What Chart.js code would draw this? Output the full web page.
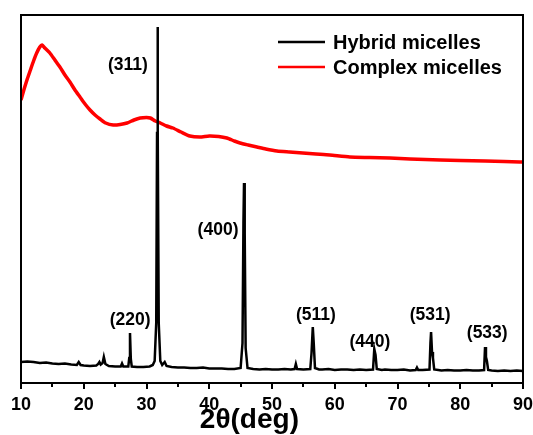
<!DOCTYPE html>
<html>
<head>
<meta charset="utf-8">
<script src="https://cdn.jsdelivr.net/npm/chart.js@4/dist/chart.umd.min.js"></script>
<style>
  html, body { margin: 0; padding: 0; background: #fff; }
  canvas { display: block; }
</style>
</head>
<body>
<canvas id="xrd" width="533" height="435"></canvas>
<script>
// XRD patterns, intensity in arbitrary units
var seriesNames = ['Hybrid micelles', 'Complex micelles'];

var hybridX = [10, 11, 12, 13, 14, 15, 16, 17, 18, 18.9, 19.2, 19.5, 20, 21, 22, 22.3, 22.5, 22.7, 23.0, 23.2, 23.45,
	24, 25, 25.9, 26.1, 26.3, 27.1, 27.25, 27.37, 27.5, 27.65, 28.5, 29.5, 30.5, 31.0, 31.3, 31.55, 31.68, 31.75, 31.83, 31.95, 32.2,
	32.5, 32.9, 33.2, 34, 35, 36, 37, 38, 39, 40, 41, 42, 43, 44, 45, 45.3, 45.45, 45.54, 45.65, 45.8, 46.1,
	47, 48, 49, 50, 51, 52, 53, 53.6, 53.8, 54.0, 55, 56.1, 56.3, 56.5, 56.65, 56.85, 57.5, 58, 59, 60, 61, 62, 63, 64, 65,
	66.1, 66.3, 66.5, 66.7, 67.5, 68, 69, 70, 71, 72, 72.9, 73.1, 73.3, 74, 75.1, 75.25, 75.35, 75.5, 75.65, 75.85,
	76.5, 77, 78, 79, 80, 81, 82, 83, 83.8, 83.95, 84.1, 84.25, 84.45, 85, 86, 87, 88, 89, 90];
var hybridY = [21, 21.5, 21, 20, 20.5, 19.5, 19, 19.5, 18.5, 18, 21, 18, 17.5, 17, 17.5, 19, 21, 18.5, 20, 26, 19,
	17, 16.5, 16.5, 19.5, 16.5, 16.5, 25, 50, 24, 16.5, 16, 16, 16.5, 18, 22, 60, 250, 356, 250, 60, 22,
	18, 21, 17, 16, 15.5, 15.5, 15, 15, 15.5, 14.5, 14.5, 14.5, 14, 14, 15, 40, 160, 200, 150, 35, 15,
	14, 13.5, 14, 13.5, 13.5, 14, 13.5, 14, 19, 14, 13.5, 14, 30, 56, 40, 15, 13.5, 13.5, 14, 13, 13.5, 13.5, 13, 13.5, 13,
	13.5, 34, 28, 14, 13, 13.5, 13, 13, 13.5, 12.5, 13, 15.5, 13, 13, 13.5, 40, 51, 31, 25, 13.5,
	13, 12.5, 13, 12.5, 12.5, 13, 12.5, 12.5, 13, 36, 26, 22, 13, 12.5, 12, 12.5, 12, 12.5, 12];

var complexX = [10, 10.5, 11, 11.5, 12, 12.5, 13, 13.35, 13.8, 14.6, 15.4, 16.2, 17, 17.8, 18.6, 19.4, 20.2, 21, 21.8, 22.6,
	23.5, 24.7, 25.8, 26.9, 28, 29, 30, 30.6, 31.4, 32.2, 33.2, 34.2, 35.5, 36.9, 38.5, 40, 41.5, 42.8, 44, 44.9, 46.2,
	47.6, 49, 50.8, 52.8, 54.9, 57, 59.2, 62.4, 65.5, 68.8, 72, 76.8, 80, 84, 87, 89.5, 90];
var complexY = [283, 294, 304, 313, 322, 330, 336, 338, 335, 330, 323, 316, 308, 301, 293, 286, 279, 273, 268, 264,
	260, 258, 258.5, 260, 263, 265, 265.5, 265, 262, 260, 257, 255, 251, 247, 246, 247, 246.5, 245, 242, 240, 238,
	236, 234, 232, 231, 230, 229, 228, 226, 225.5, 225, 224, 223, 222.5, 222, 221.5, 221, 221];

// reflection labels and where they sit (data units)
var peakLabels = ['(311)', '(220)', '(400)', '(511)', '(440)', '(531)', '(533)'];
var peakLabelX = [27.05, 27.4, 41.4, 57.0, 65.6, 75.2, 84.3];
var peakLabelY = [318, 63, 153, 68, 41, 68, 50];

var xTicks = [10, 20, 30, 40, 50, 60, 70, 80, 90];
var FONT = '"Liberation Sans", Arial, sans-serif';

function toPoints(xs, ys) {
	var pts = [];
	for (var i = 0; i < xs.length; i++) {
		pts.push({x: xs[i], y: ys[i]});
	}
	return pts;
}

var decor = {
	id: 'decor',
	afterDraw: function(chart) {
		var ctx = chart.ctx;
		var a = chart.chartArea;
		var xs = chart.scales.x, ys = chart.scales.y;
		ctx.save();
		// frame
		ctx.strokeStyle = '#000';
		ctx.lineWidth = 2;
		ctx.strokeRect(a.left, a.top, a.right - a.left, a.bottom - a.top);
		// minor ticks
		for (var v = 15; v < 90; v += 10) {
			var px = Math.round(xs.getPixelForValue(v));
			ctx.beginPath();
			ctx.moveTo(px, a.bottom);
			ctx.lineTo(px, a.bottom + 4);
			ctx.stroke();
		}
		// peak labels
		ctx.fillStyle = '#000';
		ctx.font = 'bold 17.5px ' + FONT;
		ctx.textAlign = 'center';
		ctx.textBaseline = 'middle';
		for (var i = 0; i < peakLabels.length; i++) {
			ctx.fillText(peakLabels[i], xs.getPixelForValue(peakLabelX[i]), ys.getPixelForValue(peakLabelY[i]));
		}
		// legend
		ctx.font = 'bold 20px ' + FONT;
		ctx.textAlign = 'left';
		var ds = chart.data.datasets;
		for (var j = 0; j < ds.length; j++) {
			var ly = a.top + 27 + j * 25;
			ctx.strokeStyle = ds[j].borderColor;
			ctx.lineWidth = 2.5;
			ctx.beginPath();
			ctx.moveTo(a.left + 257, ly);
			ctx.lineTo(a.left + 304, ly);
			ctx.stroke();
			ctx.fillText(ds[j].label, a.left + 312, ly + 1);
		}
		// axis title
		ctx.font = 'bold 28px ' + FONT;
		ctx.textAlign = 'center';
		ctx.fillText('2\u03B8(deg)', a.left + (a.right - a.left) * 0.455, a.bottom + 37);
		ctx.restore();
	}
};

var chart = new Chart(document.getElementById('xrd').getContext('2d'), {
	type: 'line',
	data: {
		datasets: [{
			label: seriesNames[0],
			data: toPoints(hybridX, hybridY),
			borderColor: '#000000',
			borderWidth: 2.5,
			pointRadius: 0,
			tension: 0
		}, {
			label: seriesNames[1],
			data: toPoints(complexX, complexY),
			borderColor: '#ff0000',
			borderWidth: 3.5,
			pointRadius: 0,
			tension: 0.2
		}]
	},
	options: {
		responsive: false,
		animation: false,
		devicePixelRatio: 1,
		layout: {padding: {left: 21, right: 10, top: 15, bottom: 0}},
		plugins: {
			legend: {display: false},
			tooltip: {enabled: false}
		},
		scales: {
			x: {
				type: 'linear',
				min: 10,
				max: 90,
				afterBuildTicks: function(scale) {
					scale.ticks = xTicks.map(function(v) { return {value: v}; });
				},
				afterFit: function(scale) {
					scale.height = 52;
					scale.paddingLeft = 0;
					scale.paddingRight = 0;
				},
				ticks: {
					color: '#000',
					font: {family: FONT, size: 18, weight: 'bold'},
					padding: 5,
					maxRotation: 0,
					autoSkip: false
				},
				grid: {
					drawOnChartArea: false,
					color: '#000',
					lineWidth: 2,
					tickLength: 6
				},
				border: {color: '#000', width: 2}
			},
			y: {
				display: false,
				min: 0,
				max: 368
			}
		}
	},
	plugins: [decor]
});
</script>
</body>
</html>
